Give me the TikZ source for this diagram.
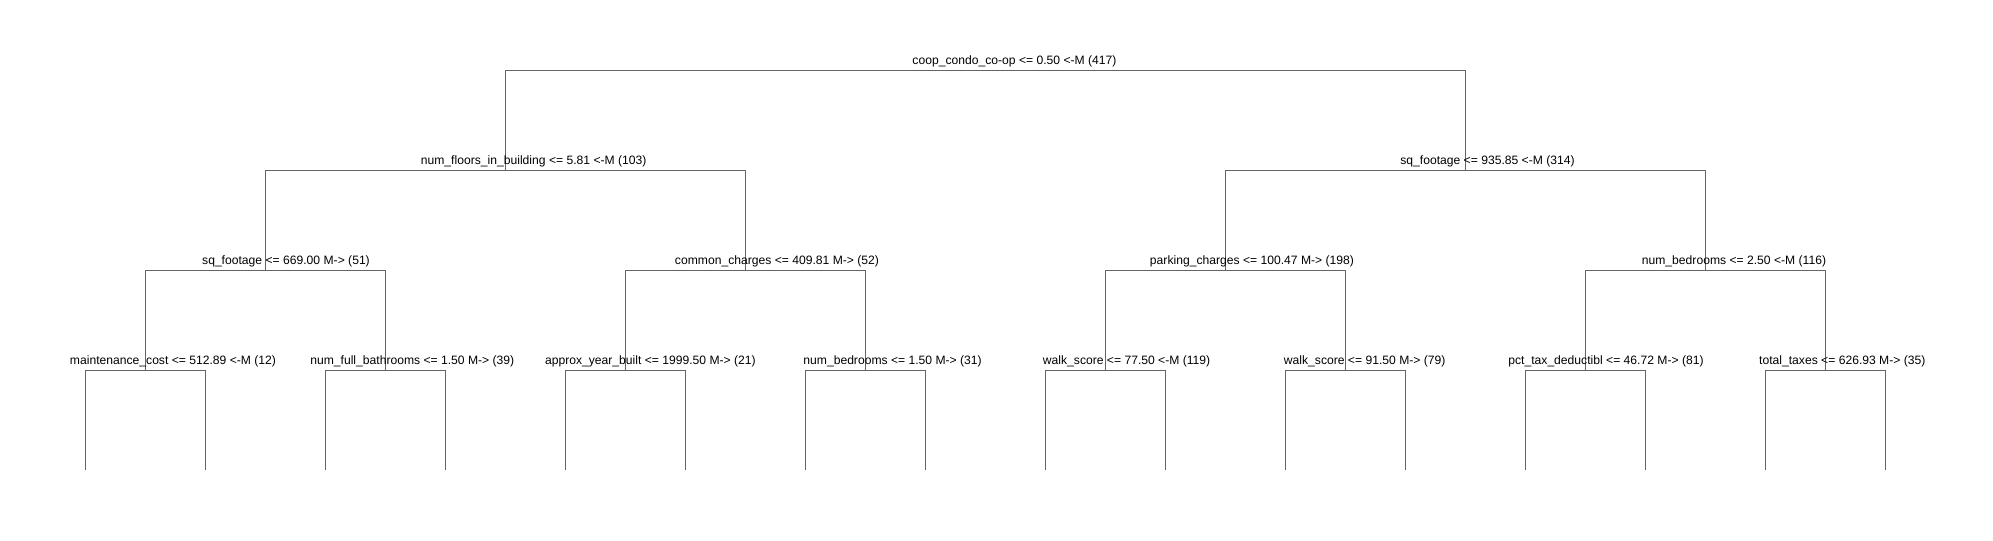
\documentclass[tikz,border=0pt]{standalone}
\usepackage{fontspec}
\setmainfont{Liberation Sans}
\usepackage{xcolor}
\definecolor{branchgray}{RGB}{100, 100, 100}
\usepackage{tikz}
\usetikzlibrary{trees}
\tikzstyle{split} = [anchor=base, inner sep=0pt, font=\fontsize{9.1pt}{11pt}\selectfont]
\tikzstyle{branch} = [draw=branchgray, line width=0.75pt]

\begin{document}
\begin{tikzpicture}[
    x=0.75pt, y=-0.75pt,
    level distance=75pt,
    level 1/.style={sibling distance=720pt},
    level 2/.style={sibling distance=360pt},
    level 3/.style={sibling distance=180pt},
    level 4/.style={sibling distance=90pt},
    edge from parent/.style={branch},
    edge from parent path={(\tikzparentnode) -| (\tikzchildnode)}
]
  \useasboundingbox (0,0) rectangle (1993,540);

  \node[coordinate] (coop) at (985.3,70.3) {}
    child { node[coordinate] (floors) {}
      child { node[coordinate] (sqftsmall) {}
        child { node[coordinate] (maint) {}
          child { node[coordinate] (leaf1) {}}
          child { node[coordinate] (leaf2) {}}
        }
        child { node[coordinate] (baths) {}
          child { node[coordinate] (leaf3) {}}
          child { node[coordinate] (leaf4) {}}
        }
      }
      child { node[coordinate] (common) {}
        child { node[coordinate] (built) {}
          child { node[coordinate] (leaf5) {}}
          child { node[coordinate] (leaf6) {}}
        }
        child { node[coordinate] (bedsmall) {}
          child { node[coordinate] (leaf7) {}}
          child { node[coordinate] (leaf8) {}}
        }
      }
    }
    child { node[coordinate] (sqft) {}
      child { node[coordinate] (parking) {}
        child { node[coordinate] (walklow) {}
          child { node[coordinate] (leaf9) {}}
          child { node[coordinate] (leaf10) {}}
        }
        child { node[coordinate] (walkhigh) {}
          child { node[coordinate] (leaf11) {}}
          child { node[coordinate] (leaf12) {}}
        }
      }
      child { node[coordinate] (beds) {}
        child { node[coordinate] (taxded) {}
          child { node[coordinate] (leaf13) {}}
          child { node[coordinate] (leaf14) {}}
        }
        child { node[coordinate] (taxes) {}
          child { node[coordinate] (leaf15) {}}
          child { node[coordinate] (leaf16) {}}
        }
      }
    };

  % split labels
  \node[split] (tcoop) at (1014.5,64) {coop\_condo\_co-op <= 0.50 <-M (417)};
  \node[split] (tfloors) at (533.7,164) {num\_floors\_in\_building <= 5.81 <-M (103)};
  \node[split] (tsqft) at (1487.5,164) {sq\_footage <= 935.85 <-M (314)};
  \node[split] (tsqftsmall) at (286,264) {sq\_footage <= 669.00 M-> (51)};
  \node[split] (tcommon) at (777,264) {common\_charges <= 409.81 M-> (52)};
  \node[split] (tparking) at (1252,264) {parking\_charges <= 100.47 M-> (198)};
  \node[split] (tbeds) at (1734,264) {num\_bedrooms <= 2.50 <-M (116)};
  \node[split] (tmaint) at (173,364) {maintenance\_cost <= 512.89 <-M (12)};
  \node[split] (tbaths) at (412.3,364) {num\_full\_bathrooms <= 1.50 M-> (39)};
  \node[split] (tbuilt) at (650.4,364) {approx\_year\_built <= 1999.50 M-> (21)};
  \node[split] (tbedsmall) at (892.6,364) {num\_bedrooms <= 1.50 M-> (31)};
  \node[split] (twalklow) at (1126.6,364) {walk\_score <= 77.50 <-M (119)};
  \node[split] (twalkhigh) at (1364.7,364) {walk\_score <= 91.50 M-> (79)};
  \node[split] (ttaxded) at (1606,364) {pct\_tax\_deductibl <= 46.72 M-> (81)};
  \node[split] (ttaxes) at (1842.3,364) {total\_taxes <= 626.93 M-> (35)};
\end{tikzpicture}
\end{document}
